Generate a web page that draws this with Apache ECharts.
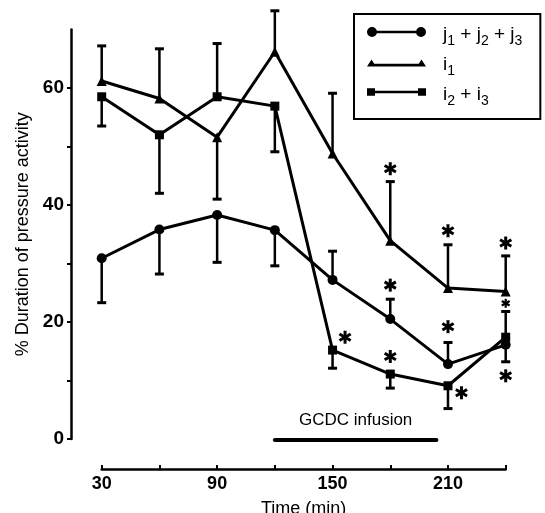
<!DOCTYPE html>
<html>
<head>
<meta charset="utf-8">
<style>
  html, body { margin: 0; padding: 0; background: #fff; }
  #chart { width: 545px; height: 513px; }
</style>
<script src="https://cdn.jsdelivr.net/npm/echarts@6/dist/echarts.min.js"></script>
</head>
<body>
<div id="chart"></div>
<script>
// ---- data ----
const times = [30, 60, 90, 120, 150, 180, 210, 240];

const jMean  = [30.9, 35.8, 38.3, 35.7, 27.2, 20.5, 12.8, 16.1];
const jUpper = [null, null, null, null, 32.1, 23.9, 16.5, null];
const jLower = [23.3, 28.2, 30.2, 29.6, null, null, null, 13.2];

const i1Mean  = [61.2, 58.2, 51.6, 66.2, 48.8, 33.9, 25.8, 25.2];
const i1Upper = [67.2, 66.7, null, 73.2, 59.1, 44.0, 33.2, 31.3];
const i1Lower = [null, null, 41.0, null, null, null, null, null];

const i23Mean  = [58.5, 52.0, 58.5, 56.9, 15.2, 11.1, 9.1, 17.4];
const i23Upper = [null, null, 67.6, null, null, null, null, 21.8];
const i23Lower = [53.5, 42.0, null, 49.1, 12.1, 8.7, 5.2, null];

// significance markers (time, value)
const starTimes  = [180, 210, 240, 180, 210, 240, 156.5, 180, 217];
const starValues = [46.2, 35.6, 33.5, 26.3, 19.2, 10.8, 17.4, 14.1, 7.9];
const smallStarTimes  = [240];
const smallStarValues = [23.2];

// infusion period (min)
const infusionPeriod = [120, 204];
const infusionLabel = 'GCDC infusion';

const xTicks = [30, 60, 90, 120, 150, 180, 210, 240];
const xLabels = [30, 90, 150, 210];
const yTicks = [0, 10, 20, 30, 40, 50, 60];
const yLabels = [0, 20, 40, 60];

const yTitle = '% Duration of pressure activity';
const xTitle = 'Time (min)';

// ---- build ----
const FONT = '"Liberation Sans", Arial, Helvetica, sans-serif';
const BLACK = '#000';

function pairs(xs, ys) { return xs.map((x, k) => [x, ys[k]]); }

const errData = [];
[[jMean, jUpper, jLower], [i1Mean, i1Upper, i1Lower], [i23Mean, i23Upper, i23Lower]].forEach(([m, up, lo]) => {
  times.forEach((t, k) => {
    if (up[k] != null) errData.push([t, m[k], up[k]]);
    if (lo[k] != null) errData.push([t, m[k], lo[k]]);
  });
});

const starData = pairs(starTimes, starValues).map(p => [p[0], p[1], 6.5]);
pairs(smallStarTimes, smallStarValues).forEach(p => starData.push([p[0], p[1], 4.5]));

const circleIcon = 'path://M0,5 A5,5 0 1,1 10,5 A5,5 0 1,1 0,5 Z M8,3.7 L51,3.7 L51,6.3 L8,6.3 Z M49,5 A5,5 0 1,1 59,5 A5,5 0 1,1 49,5 Z';
const triIcon = 'path://M0,0 L0,0 M0,9.5 L4.5,2.5 L9,9.5 Z M7,6.8 L52,6.8 L52,9.4 L7,9.4 Z M50,9.5 L54.5,2.5 L59,9.5 Z M59,10 L59,10';
const sqIcon = 'path://M0,0 L0,0 M0,1.2 L8,1.2 L8,8.8 L0,8.8 Z M6,3.7 L53,3.7 L53,6.3 L6,6.3 Z M51,1.2 L59,1.2 L59,8.8 L51,8.8 Z M59,10 L59,10';

const legendNames = {
  j: '{g| }{m|j}{s|1}{m| + j}{s|2}{m| + j}{s|3}',
  i1: '{g| }{m|i}{s|1}',
  i23: '{g| }{m|i}{s|2}{m| + i}{s|3}'
};

const chart = echarts.init(document.getElementById('chart'), null, { renderer: 'canvas' });

const lineCommon = {
  type: 'line',
  lineStyle: { color: BLACK, width: 3 },
  itemStyle: { color: BLACK, borderWidth: 0 },
  showAllSymbol: true,
  z: 3
};

chart.setOption({
  animation: false,
  backgroundColor: '#fff',
  textStyle: { fontFamily: FONT },
  grid: { left: 101.7, right: 39.3, top: 29.5, bottom: 74, outerBoundsMode: 'none', containLabel: false },
  legend: {
    orient: 'vertical',
    left: 354, top: 14,
    itemWidth: 59, itemHeight: 10, itemGap: 4,
    padding: [8.5, 18, 10.5, 13],
    borderColor: BLACK, borderWidth: 2,
    selectedMode: false,
    itemStyle: { color: BLACK, borderWidth: 0 },
    data: [
      { name: 'j', icon: circleIcon },
      { name: 'i1', icon: triIcon },
      { name: 'i23', icon: sqIcon }
    ],
    formatter: n => legendNames[n],
    textStyle: {
      color: BLACK, fontFamily: FONT,
      rich: {
        g: { width: 12, fontSize: 19, lineHeight: 19, padding: [3, 0, 0, 0], verticalAlign: 'top' },
        m: { fontSize: 19, lineHeight: 19, padding: [3, 0, 0, 0], verticalAlign: 'top', color: BLACK, fontFamily: FONT },
        s: { fontSize: 14, lineHeight: 14, padding: [12, 0, 0, 0], verticalAlign: 'top', color: BLACK, fontFamily: FONT }
      }
    }
  },
  xAxis: {
    type: 'value', min: 30, max: 240, interval: 30,
    offset: 30,
    axisLine: { show: true, onZero: false, lineStyle: { color: BLACK, width: 2.5 } },
    axisTick: { show: true, inside: true, length: 4, lineStyle: { color: BLACK, width: 2 }, customValues: xTicks },
    axisLabel: { customValues: xLabels, color: BLACK, fontWeight: 'bold', fontSize: 18, margin: 6, fontFamily: FONT },
    splitLine: { show: false },
    name: xTitle, nameLocation: 'middle', nameGap: 31,
    nameTextStyle: { color: BLACK, fontSize: 18, fontFamily: FONT }
  },
  yAxis: {
    type: 'value', min: 0, max: 70, interval: 10,
    offset: 30.7,
    axisLine: { show: true, onZero: false, lineStyle: { color: BLACK, width: 2.5 } },
    axisTick: { show: true, inside: false, length: 4, lineStyle: { color: BLACK, width: 2 }, customValues: yTicks },
    axisLabel: { customValues: yLabels, color: BLACK, fontWeight: 'bold', fontSize: 19, margin: 7, fontFamily: FONT },
    splitLine: { show: false },
    name: yTitle, nameLocation: 'middle', nameGap: 38, nameRotate: 90,
    nameTextStyle: { color: BLACK, fontSize: 18, fontFamily: FONT }
  },
  series: [
    Object.assign({}, lineCommon, { name: 'j', symbol: 'circle', symbolSize: 10, data: pairs(times, jMean) }),
    Object.assign({}, lineCommon, { name: 'i1', symbol: 'triangle', symbolSize: 10, data: pairs(times, i1Mean) }),
    Object.assign({}, lineCommon, { name: 'i23', symbol: 'rect', symbolSize: 9, data: pairs(times, i23Mean) }),
    {
      type: 'custom', name: 'errorbars', z: 2,
      encode: { x: 0, y: [1, 2] },
      data: errData,
      renderItem: function (params, api) {
        const p0 = api.coord([api.value(0), api.value(1)]);
        const p1 = api.coord([api.value(0), api.value(2)]);
        return {
          type: 'group',
          children: [
            { type: 'line', shape: { x1: p0[0], y1: p0[1], x2: p1[0], y2: p1[1] }, style: { stroke: BLACK, lineWidth: 2.5 } },
            { type: 'line', shape: { x1: p1[0] - 4.5, y1: p1[1], x2: p1[0] + 4.5, y2: p1[1] }, style: { stroke: BLACK, lineWidth: 3 } }
          ]
        };
      }
    },
    {
      type: 'custom', name: 'stars', z: 4,
      encode: { x: 0, y: 1 },
      data: starData,
      renderItem: function (params, api) {
        const c = api.coord([api.value(0), api.value(1)]);
        const r = api.value(2);
        const dx = r * Math.cos(Math.PI / 6), dy = r * Math.sin(Math.PI / 6);
        const st = { stroke: BLACK, lineWidth: r > 5 ? 3 : 2.2 };
        return {
          type: 'group',
          children: [
            { type: 'line', shape: { x1: c[0], y1: c[1] - r, x2: c[0], y2: c[1] + r }, style: st },
            { type: 'line', shape: { x1: c[0] - dx, y1: c[1] - dy, x2: c[0] + dx, y2: c[1] + dy }, style: st },
            { type: 'line', shape: { x1: c[0] - dx, y1: c[1] + dy, x2: c[0] + dx, y2: c[1] - dy }, style: st }
          ]
        };
      }
    },
    {
      type: 'custom', name: 'infusion', z: 2,
      encode: { x: [0, 1] },
      data: [infusionPeriod],
      renderItem: function (params, api) {
        const p0 = api.coord([api.value(0), 0]);
        const p1 = api.coord([api.value(1), 0]);
        const y = p0[1] + 1;
        return {
          type: 'group',
          children: [
            { type: 'line', shape: { x1: p0[0], y1: y, x2: p1[0], y2: y }, style: { stroke: BLACK, lineWidth: 4, lineCap: 'round' } },
            { type: 'text', style: { text: infusionLabel, x: (p0[0] + p1[0]) / 2, y: y - 20, align: 'center', verticalAlign: 'middle', fontSize: 17, fontFamily: FONT, fill: BLACK } }
          ]
        };
      }
    }
  ]
});
</script>
</body>
</html>
